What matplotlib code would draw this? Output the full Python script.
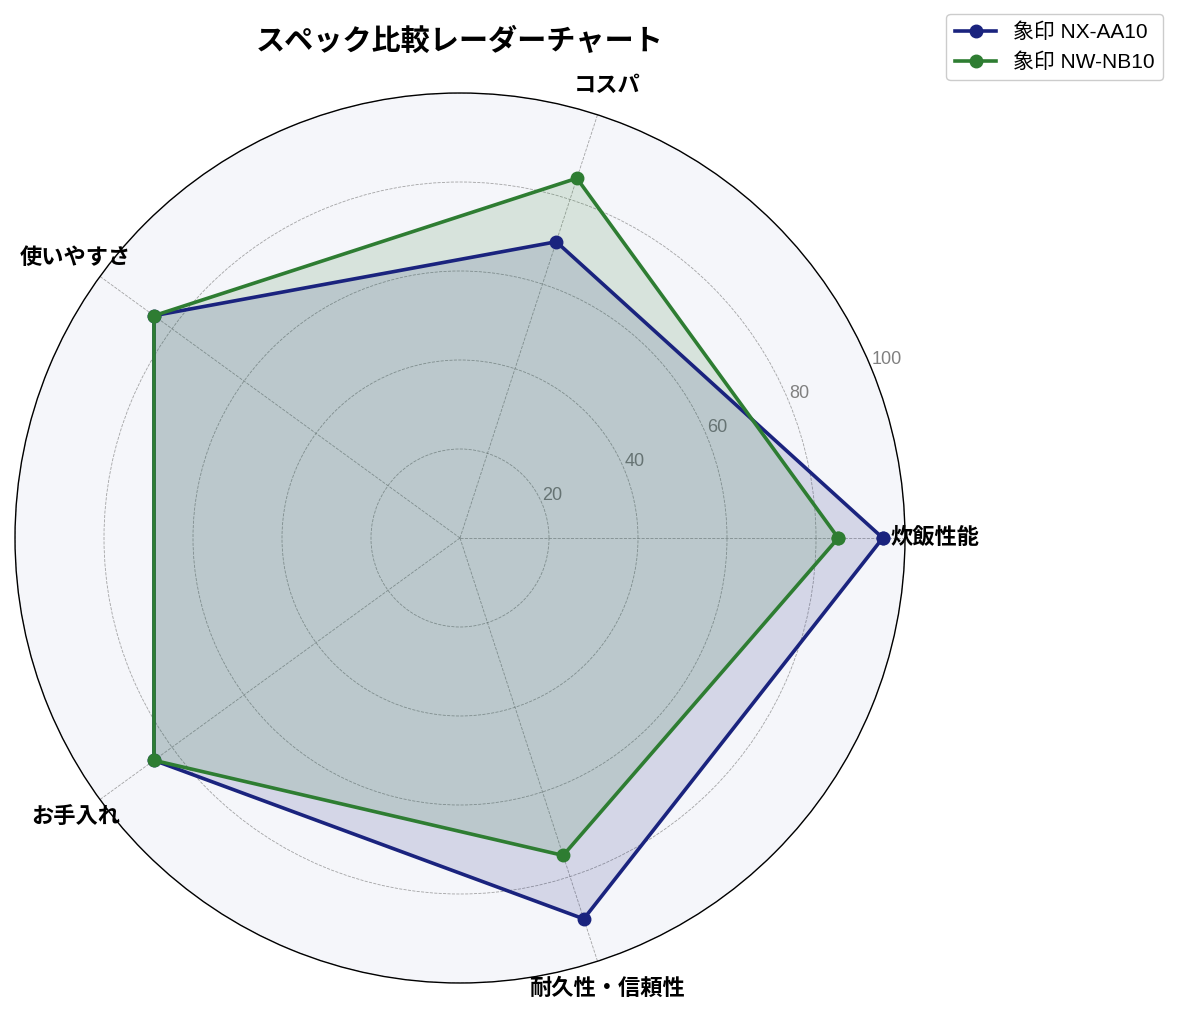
import numpy as np
import matplotlib
matplotlib.use("Agg")
import matplotlib.pyplot as plt

plt.rcParams['font.family'] = ['Liberation Sans', 'Noto Sans CJK JP', 'DejaVu Sans']

categories = ['炊飯性能', 'コスパ', '使いやすさ', 'お手入れ', '耐久性・信頼性']
series_names = ['象印 NX-AA10', '象印 NW-NB10']
nx_values = [95, 70, 85, 85, 90]
nw_values = [85, 85, 85, 85, 75]
r_ticks = [20, 40, 60, 80, 100]
colors = ['#1a237e', '#2e7d32']

W, H = 1178, 1017
fig = plt.figure(figsize=(W / 100, H / 100), dpi=100)
cx, cy, R = 460, 538, 445
ax = fig.add_axes([(cx - R) / W, (H - cy - R) / H, 2 * R / W, 2 * R / H], polar=True)
ax.set_facecolor('#f5f6fa')

n = len(categories)
angles = np.linspace(0, 2 * np.pi, n, endpoint=False)
ang_closed = np.concatenate([angles, angles[:1]])

for vals, name, c in zip([nx_values, nw_values], series_names, colors):
    v = np.array(vals + vals[:1], dtype=float)
    ax.plot(ang_closed, v, color=c, linewidth=2.6, marker='o', markersize=9, label=name, zorder=3)
    ax.fill(ang_closed, v, color=c, alpha=0.15, zorder=2)

ax.set_ylim(0, 100)
ax.set_yticks(r_ticks)
ax.set_yticklabels([str(t) for t in r_ticks], color='gray', fontsize=13)
ax.set_rlabel_position(22.5)
ax.set_xticks(angles)
ax.set_xticklabels(categories, fontsize=16, fontweight='bold')
ax.tick_params(axis='x', pad=11)
ax.grid(color='gray', linestyle='--', linewidth=0.6, alpha=0.7)
ax.spines['polar'].set_color('black')
ax.spines['polar'].set_linewidth(1.0)

fig.text(cx / W, 1 - 42 / H, 'スペック比較レーダーチャート', ha='center', va='center',
         fontsize=21, fontweight='bold')

fig.legend(loc='upper right', bbox_to_anchor=(1163 / W, 1 - 14 / H), fontsize=15,
           framealpha=1, edgecolor='#cccccc', handlelength=2.0, borderaxespad=0)

fig.savefig('out.png', dpi=100)
